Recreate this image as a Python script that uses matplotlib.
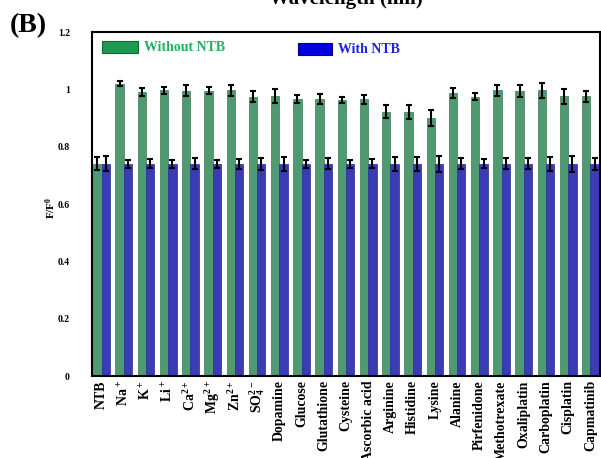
import numpy as np
import matplotlib
matplotlib.use("Agg")
import matplotlib.pyplot as plt
from matplotlib.patches import Rectangle

plt.rcParams['font.family'] = ['Liberation Serif', 'DejaVu Serif']
plt.rcParams['font.weight'] = 'bold'
plt.rcParams['mathtext.fontset'] = 'custom'
plt.rcParams['mathtext.rm'] = 'Liberation Serif:bold'
plt.rcParams['mathtext.bf'] = 'Liberation Serif:bold'
plt.rcParams['mathtext.default'] = 'rm'

## Data ####################################################

categories = ['NTB', 'Na$^+$', 'K$^+$', 'Li$^+$', 'Ca$^{2+}$', 'Mg$^{2+}$',
              'Zn$^{2+}$', 'SO$_4^{2-}$', 'Dopamine', 'Glucose', 'Glutathione',
              'Cysteine', 'Ascorbic acid', 'Arginine', 'Histidine', 'Lysine',
              'Alanine', 'Pirfenidone', 'Methotrexate', 'Oxaliplatin',
              'Carboplatin', 'Cisplatin', 'Capmatinib']

without_ntb = [0.74, 1.02, 0.99, 0.997, 0.995, 0.995, 0.997, 0.975, 0.977,
               0.966, 0.966, 0.963, 0.965, 0.922, 0.92, 0.90, 0.986, 0.975,
               0.996, 0.995, 0.997, 0.976, 0.976]
without_err = [0.023, 0.01, 0.013, 0.012, 0.019, 0.013, 0.019, 0.019, 0.023,
               0.013, 0.018, 0.012, 0.015, 0.022, 0.024, 0.028, 0.017, 0.013,
               0.019, 0.02, 0.026, 0.026, 0.019]

with_ntb = [0.74] * 23
with_err = [0.026, 0.013, 0.016, 0.013, 0.019, 0.015, 0.018, 0.021, 0.025,
            0.013, 0.019, 0.015, 0.016, 0.025, 0.025, 0.029, 0.019, 0.016,
            0.019, 0.019, 0.025, 0.029, 0.02]

## Plot ####################################################

W = 0.375
x = np.arange(len(categories))

fig = plt.figure(figsize=(6.01, 4.58), dpi=100)
ax = fig.add_axes([92/601, 82/458, 508/601, 344/458])

ax.bar(x - W/2, without_ntb, W, color='#4f9a70', edgecolor='#3a7a55',
       linewidth=0.5, yerr=without_err, capsize=2,
       error_kw=dict(ecolor='black', elinewidth=1.5, capthick=1.5))
ax.bar(x + W/2, with_ntb, W, color='#3b3bb5', edgecolor='#2a2a90',
       linewidth=0.5, yerr=with_err, capsize=2,
       error_kw=dict(ecolor='black', elinewidth=1.5, capthick=1.5))

ax.set_xlim(-0.43, 22.43)
ax.set_ylim(0, 1.2)
ax.set_yticks([0, 0.2, 0.4, 0.6, 0.8, 1.0, 1.2])
ax.set_yticklabels(['0', '0.2', '0.4', '0.6', '0.8', '1', '1.2'],
                   fontsize=7, fontweight='bold')
ax.set_xticks(x)
ax.set_xticklabels(categories, rotation=90, fontsize=10, fontweight='bold')
ax.tick_params(axis='both', length=0)
ax.tick_params(axis='y', pad=16)
ax.tick_params(axis='x', pad=3)
ax.set_ylabel('F/F$^0$', fontsize=8, fontweight='bold')
ax.yaxis.set_label_coords(-0.067, 0.49)

for s in ax.spines.values():
    s.set_linewidth(1.5)

# hand-drawn style legend
ax.add_patch(Rectangle((0.02, 0.938), 0.07, 0.035, transform=ax.transAxes,
                       facecolor='#1e9a50', edgecolor='#106a30', lw=0.8,
                       clip_on=False))
ax.text(0.103, 0.955, 'Without NTB', transform=ax.transAxes, color='#22b060',
        fontsize=10, fontweight='bold', va='center')
ax.add_patch(Rectangle((0.405, 0.932), 0.068, 0.035, transform=ax.transAxes,
                       facecolor='#0000e0', edgecolor='#000080', lw=0.8,
                       clip_on=False))
ax.text(0.484, 0.948, 'With NTB', transform=ax.transAxes, color='#2020e0',
        fontsize=10, fontweight='bold', va='center')

fig.text(10/601, 1 - 26/458, '(B)', fontsize=20, fontweight='bold',
         va='center', ha='left')
fig.text(346/601, 1 - 9/458, 'Wavelength (nm)', fontsize=15,
         fontweight='bold', va='bottom', ha='center')

fig.savefig('out.png', dpi=100)
